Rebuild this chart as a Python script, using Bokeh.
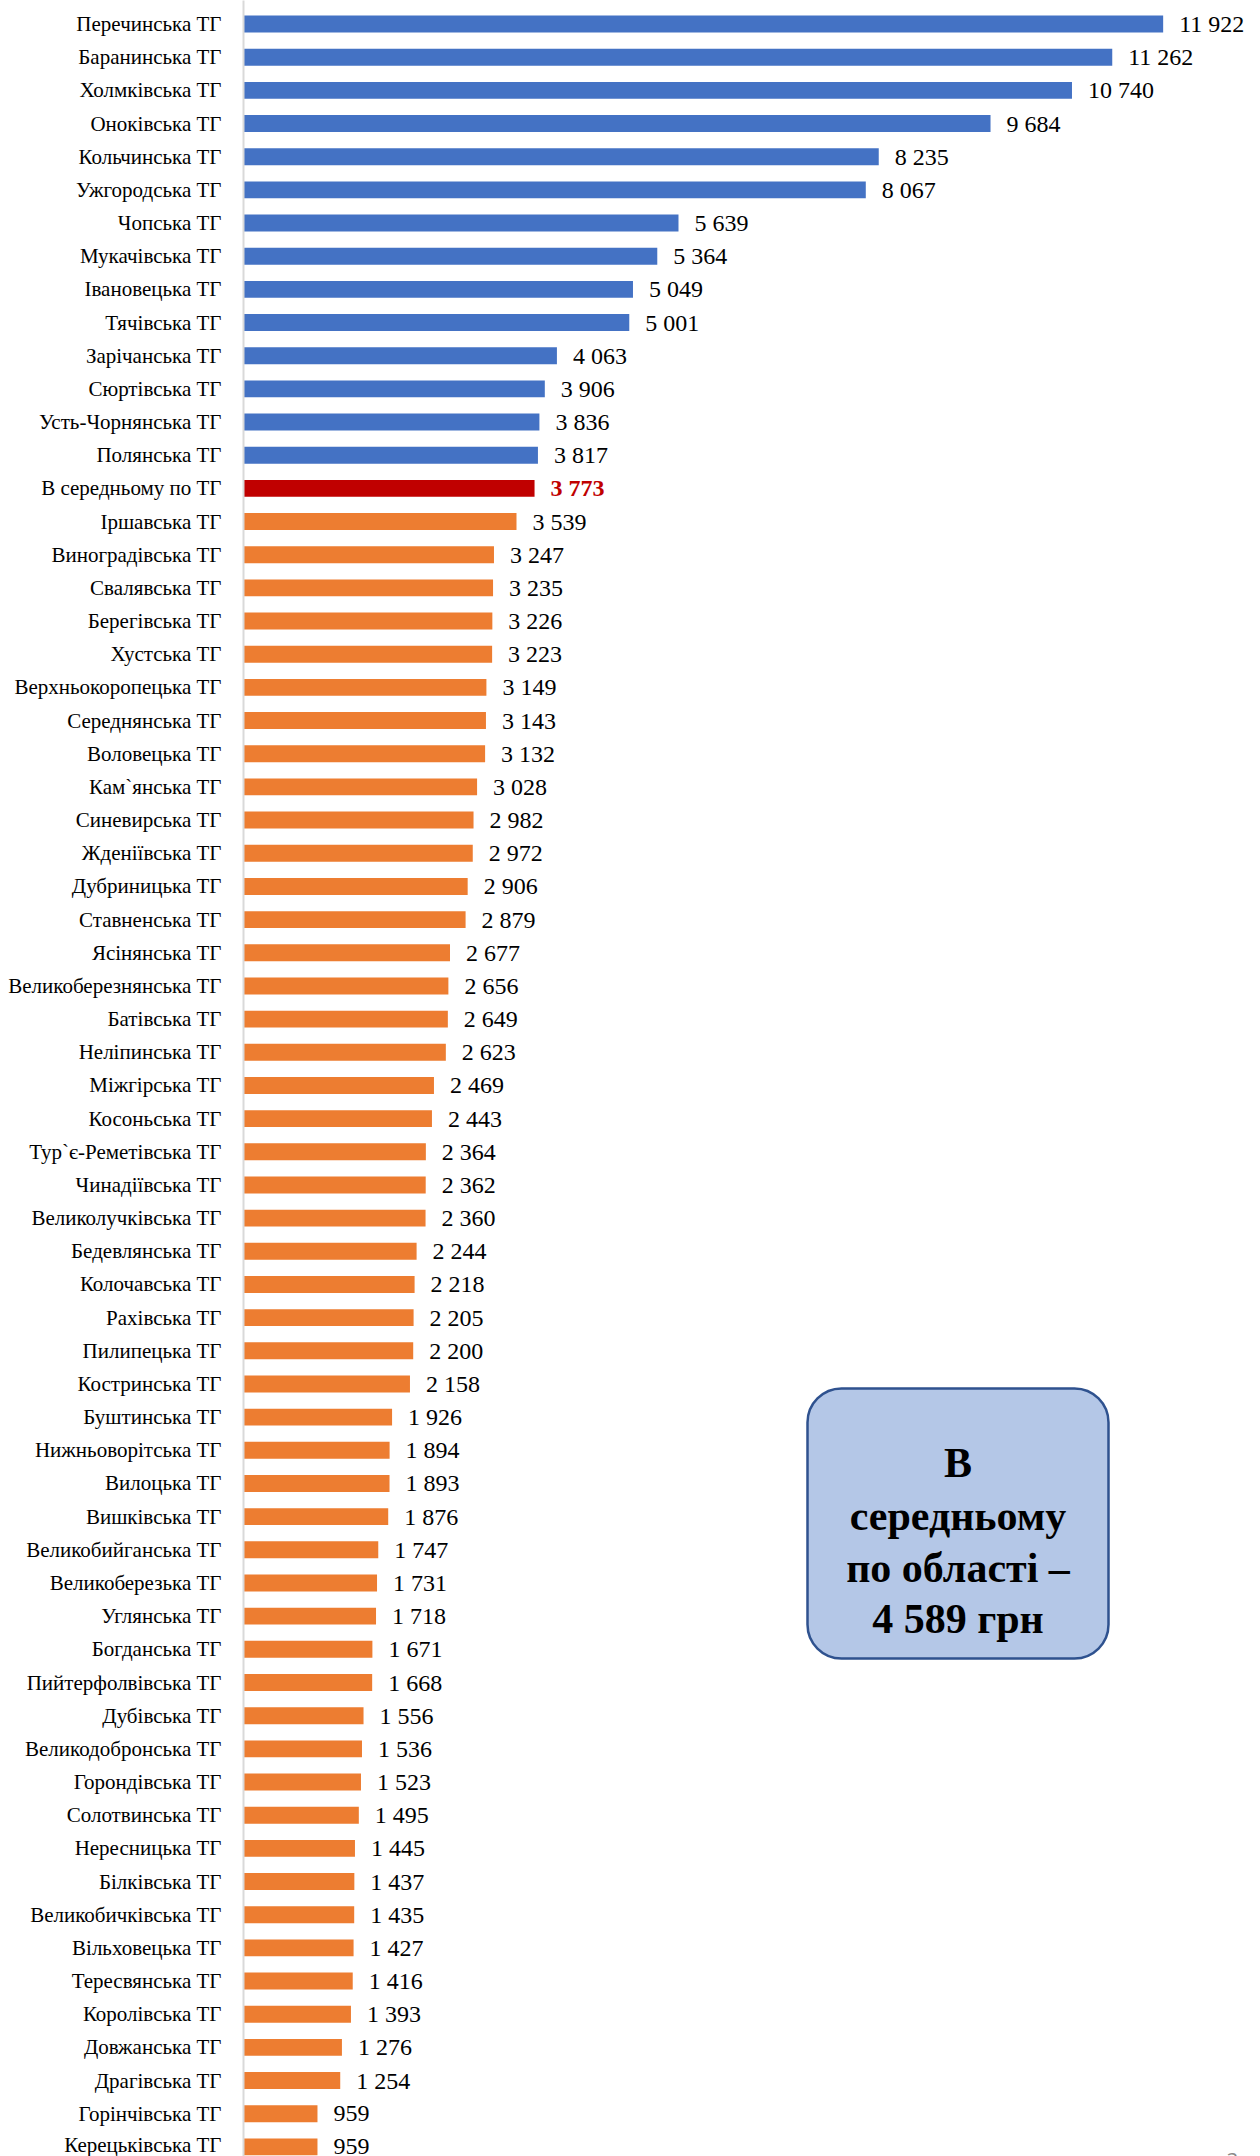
from bokeh.plotting import figure
from bokeh.models import Range1d, FixedTicker, ColumnDataSource
from bokeh.core.properties import value
from bokeh.embed import file_html
from bokeh.resources import INLINE

communities = [
    "Перечинська ТГ", "Баранинська ТГ", "Холмківська ТГ", "Оноківська ТГ", "Кольчинська ТГ",
    "Ужгородська ТГ", "Чопська ТГ", "Мукачівська ТГ", "Івановецька ТГ", "Тячівська ТГ",
    "Зарічанська ТГ", "Сюртівська ТГ", "Усть-Чорнянська ТГ", "Полянська ТГ", "В середньому по ТГ",
    "Іршавська ТГ", "Виноградівська ТГ", "Свалявська ТГ", "Берегівська ТГ", "Хустська ТГ",
    "Верхньокоропецька ТГ", "Середнянська ТГ", "Воловецька ТГ", "Кам`янська ТГ", "Синевирська ТГ",
    "Жденіївська ТГ", "Дубриницька ТГ", "Ставненська ТГ", "Ясінянська ТГ", "Великоберезнянська ТГ",
    "Батівська ТГ", "Неліпинська ТГ", "Міжгірська ТГ", "Косоньська ТГ", "Тур`є-Реметівська ТГ",
    "Чинадіївська ТГ", "Великолучківська ТГ", "Бедевлянська ТГ", "Колочавська ТГ", "Рахівська ТГ",
    "Пилипецька ТГ", "Костринська ТГ", "Буштинська ТГ", "Нижньоворітська ТГ", "Вилоцька ТГ",
    "Вишківська ТГ", "Великобийганська ТГ", "Великоберезька ТГ", "Углянська ТГ", "Богданська ТГ",
    "Пийтерфолвівська ТГ", "Дубівська ТГ", "Великодобронська ТГ", "Горондівська ТГ", "Солотвинська ТГ",
    "Нересницька ТГ", "Білківська ТГ", "Великобичківська ТГ", "Вільховецька ТГ", "Тересвянська ТГ",
    "Королівська ТГ", "Довжанська ТГ", "Драгівська ТГ", "Горінчівська ТГ", "Керецьківська ТГ",
]
values = [
    11922, 11262, 10740, 9684, 8235,
    8067, 5639, 5364, 5049, 5001,
    4063, 3906, 3836, 3817, 3773,
    3539, 3247, 3235, 3226, 3223,
    3149, 3143, 3132, 3028, 2982,
    2972, 2906, 2879, 2677, 2656,
    2649, 2623, 2469, 2443, 2364,
    2362, 2360, 2244, 2218, 2205,
    2200, 2158, 1926, 1894, 1893,
    1876, 1747, 1731, 1718, 1671,
    1668, 1556, 1536, 1523, 1495,
    1445, 1437, 1435, 1427, 1416,
    1393, 1276, 1254, 959, 959,
]
average_label = "В середньому по ТГ"
region_text = ["В", "середньому", "по області –", "4 589 грн"]
page_number = "3"

BLUE = "#4472c4"
ORANGE = "#ed7d31"
RED = "#c00000"

avg_idx = communities.index(average_label)
avg_val = values[avg_idx]

ys = list(range(len(communities)))
colors = [RED if i == avg_idx else (BLUE if v > avg_val else ORANGE) for i, v in enumerate(values)]
texts = [f"{v:,}".replace(",", " ") for v in values]

src = ColumnDataSource(dict(y=ys, v=values, c=colors, t=texts))
src_norm = ColumnDataSource(dict(y=[y for y in ys if y != avg_idx],
                                 v=[v for i, v in enumerate(values) if i != avg_idx],
                                 t=[t for i, t in enumerate(texts) if i != avg_idx]))
src_avg = ColumnDataSource(dict(y=[avg_idx], v=[avg_val], t=[texts[avg_idx]]))

PX_PER_ROW = 33.17
AXIS_PX = 243
PX_PER_UNIT = 0.07714
W = 1260
H = 2156
y_top = -23.5 / PX_PER_ROW
y_bot = y_top + H / PX_PER_ROW
x_end = (W - AXIS_PX) / PX_PER_UNIT

p = figure(width=W, height=H, output_backend="svg", toolbar_location=None,
           x_range=Range1d(0, x_end), y_range=Range1d(start=y_bot, end=y_top),
           min_border_left=AXIS_PX, min_border_right=0, min_border_top=0, min_border_bottom=0)
p.outline_line_color = None
p.xgrid.visible = False
p.ygrid.visible = False
p.xaxis.visible = False

p.hbar(y="y", right="v", left=0, height=0.51, fill_color="c", line_color=None, source=src)

serif = value("Liberation Serif")
p.text(x="v", y="y", text="t", source=src_norm, x_offset=16, text_baseline="middle",
       text_align="left", text_font=serif, text_font_size="24px", text_color="#000000")
p.text(x="v", y="y", text="t", source=src_avg, x_offset=16, text_baseline="middle",
       text_align="left", text_font=serif, text_font_size="24px", text_color=RED,
       text_font_style="bold")

yax = p.yaxis[0]
yax.ticker = FixedTicker(ticks=ys)
yax.major_label_overrides = {i: n for i, n in enumerate(communities)}
yax.axis_line_color = "#d9d9d9"
yax.axis_line_width = 2
yax.major_tick_line_color = None
yax.minor_tick_line_color = None
yax.major_tick_out = 0
yax.major_tick_in = 0
yax.major_label_standoff = 22
yax.major_label_text_font = "Liberation Serif"
yax.major_label_text_font_size = "21px"
yax.major_label_text_color = "#000000"

# info box (positions in screen pixels converted to data units)
def xv(px):
    return (px - AXIS_PX) / PX_PER_UNIT

def yv(px):
    return (px - 23.5) / PX_PER_ROW

p.quad(left=[xv(807)], right=[xv(1108)], top=[yv(1388)], bottom=[yv(1658)],
       fill_color="#b4c7e7", line_color="#2f528f", line_width=2.5, border_radius=34)
base_px = [1462, 1515, 1567, 1618]
p.text(x=[xv(957.5)] * 4, y=[yv(b) for b in base_px], text=region_text,
       text_align="center", text_baseline="alphabetic", text_font=serif,
       text_font_size="42px", text_font_style="bold", text_color="#000000")

p.text(x=[xv(1232)], y=[yv(2159)], text=[page_number], text_align="center",
       text_baseline="alphabetic", text_font=value("Open Sans"), text_font_size="20px",
       text_color="#898989")

open("out.html", "w").write(file_html(p, INLINE))
